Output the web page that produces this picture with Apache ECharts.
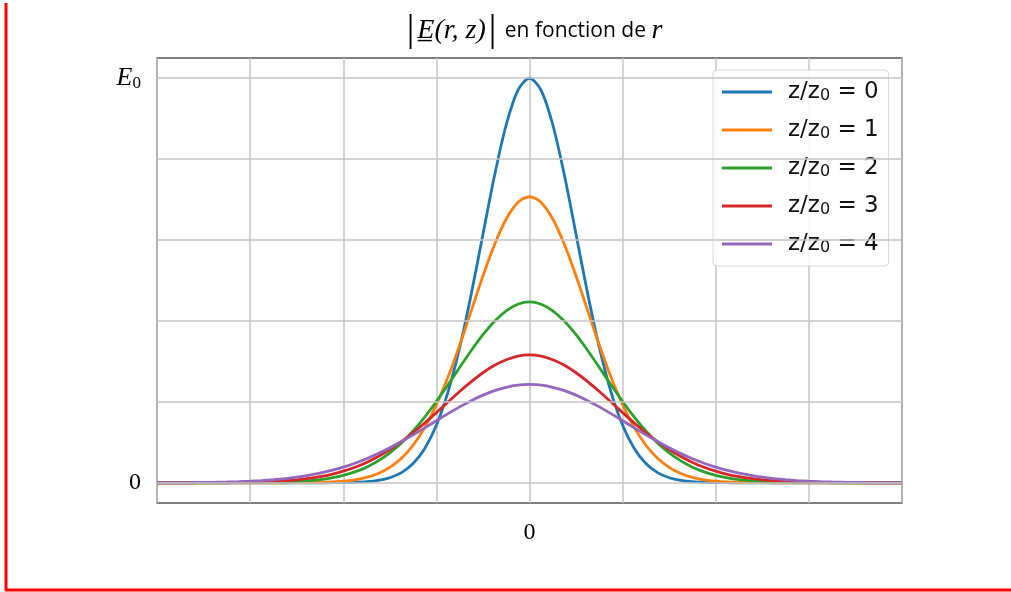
<!DOCTYPE html>
<html>
<head>
<meta charset="utf-8">
<title>|E(r,z)| en fonction de r</title>
<script src="https://cdn.jsdelivr.net/npm/echarts@6/dist/echarts.min.js"></script>
<style>
  html, body { margin: 0; padding: 0; background: #fff; }
  #main { width: 1011px; height: 592px; }
</style>
</head>
<body>
<div id="main"></div>
<script>
// abscisse r (une graduation = une unité), de -4 à 4 par pas de 0.125
var rValues = [-4, -3.875, -3.75, -3.625, -3.5, -3.375, -3.25, -3.125, -3, -2.875, -2.75, -2.625, -2.5, -2.375, -2.25, -2.125,
  -2, -1.875, -1.75, -1.625, -1.5, -1.375, -1.25, -1.125, -1, -0.875, -0.75, -0.625, -0.5, -0.375, -0.25, -0.125,
  0, 0.125, 0.25, 0.375, 0.5, 0.625, 0.75, 0.875, 1, 1.125, 1.25, 1.375, 1.5, 1.625, 1.75, 1.875,
  2, 2.125, 2.25, 2.375, 2.5, 2.625, 2.75, 2.875, 3, 3.125, 3.25, 3.375, 3.5, 3.625, 3.75, 3.875, 4];

// |E| / E0
var ez0 = [0, 0, 0, 0, 0, 0, 0, 0, 0, 0, 0, 0, 0, 0, 0, 0.0002,
  0.0004, 0.0011, 0.0026, 0.0058, 0.0124, 0.025, 0.0475, 0.0848, 0.142, 0.2247, 0.334, 0.467, 0.614, 0.76, 0.885, 0.97,
  1, 0.97, 0.885, 0.76, 0.614, 0.467, 0.334, 0.2247, 0.142, 0.0848, 0.0475, 0.025, 0.0124, 0.0058, 0.0026, 0.0011,
  0.0004, 0.0002, 0, 0, 0, 0, 0, 0, 0, 0, 0, 0, 0, 0, 0, 0, 0];
var ez1 = [0, 0, 0, 0, 0, 0, 0, 0, 0, 0, 0, 0.0001, 0.0002, 0.0005, 0.001, 0.002,
  0.0039, 0.0073, 0.0132, 0.0228, 0.038, 0.0605, 0.0928, 0.1364, 0.193, 0.2613, 0.34, 0.4255, 0.511, 0.589, 0.652, 0.693,
  0.707, 0.693, 0.652, 0.589, 0.511, 0.4255, 0.34, 0.2613, 0.193, 0.1364, 0.0928, 0.0605, 0.038, 0.0228, 0.0132, 0.0073,
  0.0039, 0.002, 0.001, 0.0005, 0.0002, 0.0001, 0, 0, 0, 0, 0, 0, 0, 0, 0, 0, 0];
var ez2 = [0, 0, 0, 0, 0, 0, 0.0001, 0.0002, 0.0003, 0.0006, 0.0011, 0.0018, 0.003, 0.0049, 0.0078, 0.0121,
  0.0182, 0.0268, 0.0386, 0.054, 0.0739, 0.0985, 0.128, 0.1624, 0.201, 0.2423, 0.285, 0.327, 0.366, 0.3994, 0.425, 0.4414,
  0.447, 0.4414, 0.425, 0.3994, 0.366, 0.327, 0.285, 0.2423, 0.201, 0.1624, 0.128, 0.0985, 0.0739, 0.054, 0.0386, 0.0268,
  0.0182, 0.0121, 0.0078, 0.0049, 0.003, 0.0018, 0.0011, 0.0006, 0.0003, 0.0002, 0.0001, 0, 0, 0, 0, 0, 0];
var ez3 = [0, 0, 0.0001, 0.0001, 0.0002, 0.0003, 0.0006, 0.0009, 0.0014, 0.0022, 0.0034, 0.0051, 0.0074, 0.0107, 0.0152, 0.021,
  0.0287, 0.0383, 0.0503, 0.0648, 0.0819, 0.1016, 0.1237, 0.1479, 0.1734, 0.1996, 0.2255, 0.25, 0.272, 0.2904, 0.304, 0.3131,
  0.316, 0.3131, 0.304, 0.2904, 0.272, 0.25, 0.2255, 0.1996, 0.1734, 0.1479, 0.1237, 0.1016, 0.0819, 0.0648, 0.0503, 0.0383,
  0.0287, 0.021, 0.0152, 0.0107, 0.0074, 0.0051, 0.0034, 0.0022, 0.0014, 0.0009, 0.0006, 0.0003, 0.0002, 0.0001, 0.0001, 0, 0];
var ez4 = [0.0002, 0.0002, 0.0004, 0.0006, 0.0009, 0.0013, 0.0019, 0.0027, 0.0039, 0.0054, 0.0075, 0.0102, 0.0137, 0.0182, 0.0237, 0.0304,
  0.0386, 0.0482, 0.0594, 0.0721, 0.0863, 0.1018, 0.1184, 0.1358, 0.1534, 0.1709, 0.1876, 0.203, 0.2166, 0.2278, 0.236, 0.2413,
  0.243, 0.2413, 0.236, 0.2278, 0.2166, 0.203, 0.1876, 0.1709, 0.1534, 0.1358, 0.1184, 0.1018, 0.0863, 0.0721, 0.0594, 0.0482,
  0.0386, 0.0304, 0.0237, 0.0182, 0.0137, 0.0102, 0.0075, 0.0054, 0.0039, 0.0027, 0.0019, 0.0013, 0.0009, 0.0006, 0.0004, 0.0002, 0.0002];

var zRatios = ['0', '1', '2', '3', '4'];
var seriesValues = [ez0, ez1, ez2, ez3, ez4];
var colors = ['#1f77b4', '#ff7f0e', '#2ca02c', '#d62728', '#9467bd'];

// lignes de grille horizontales (0 ... E0)
var yGrid = [0, 0.2, 0.4, 0.6, 0.8, 1];

var seriesNames = zRatios.map(function (z) { return 'z/z0 = ' + z; });

var chart = echarts.init(document.getElementById('main'));

var series = seriesValues.map(function (vals, i) {
  var s = {
    name: seriesNames[i],
    type: 'line',
    smooth: 0.3,
    symbol: 'none',
    animation: false,
    lineStyle: { color: colors[i], width: 2.8 },
    itemStyle: { color: colors[i] },
    data: rValues.map(function (r, k) { return [r, vals[k]]; })
  };
  if (i === 0) {
    s.markLine = {
      silent: true,
      symbol: 'none',
      label: { show: false },
      animation: false,
      lineStyle: { color: '#c4c4c4', width: 1.5, type: 'solid' },
      data: yGrid.map(function (v) { return { yAxis: v }; })
    };
  }
  return s;
});

var option = {
  backgroundColor: '#fff',
  animation: false,
  title: {
    text: '{bar||}{m|E\u0332(r, z)}{bar||}{t| en fonction de }{m|r}',
    left: 528,
    top: 7,
    textAlign: 'center',
    textStyle: {
      fontWeight: 'normal',
      rich: {
        bar: { fontFamily: 'Liberation Serif', fontWeight: 'normal', fontSize: 38, color: '#000', padding: [0, 3, 0, 3] },
        m: { fontFamily: 'Liberation Serif', fontStyle: 'italic', fontWeight: 'normal', fontSize: 28, color: '#000' },
        t: { fontFamily: 'Open Sans', fontWeight: 'normal', fontSize: 21, color: '#000' }
      }
    }
  },
  grid: {
    left: 157, right: 109, top: 58, bottom: 89,
    show: true, borderColor: '#555', borderWidth: 1.5,
    containLabel: false
  },
  legend: {
    orient: 'vertical',
    left: 713,
    top: 70,
    icon: 'rect',
    itemWidth: 50,
    itemHeight: 3,
    itemGap: 13,
    padding: [9, 10, 10, 9],
    backgroundColor: 'rgba(255,255,255,0.85)',
    borderColor: '#d8d8d8',
    borderWidth: 1,
    borderRadius: 4,
    formatter: function (name) {
      var z = name.split('= ')[1];
      return '{a|z/z}{s|0}{a| = ' + z + '}';
    },
    textStyle: {
      padding: [0, 0, 0, 11],
      rich: {
        a: { fontFamily: 'DejaVu Sans', fontSize: 23, color: '#111', lineHeight: 24 },
        s: { fontFamily: 'DejaVu Sans', fontSize: 16, color: '#111', verticalAlign: 'bottom', lineHeight: 24, padding: [9, 0, 0, 0] }
      }
    },
    data: seriesNames
  },
  xAxis: {
    type: 'value',
    min: -4,
    max: 4,
    interval: 1,
    axisLine: { show: false },
    axisTick: { show: false },
    splitLine: { show: true, lineStyle: { color: '#c4c4c4', width: 1.5 } },
    axisLabel: {
      margin: 18,
      fontFamily: 'Liberation Serif',
      fontSize: 24,
      color: '#000',
      formatter: function (v) { return v === 0 ? '0' : ''; }
    }
  },
  yAxis: {
    type: 'value',
    min: -0.05,
    max: 1.05,
    interval: 0.05,
    axisLine: { show: false },
    axisTick: { show: false },
    splitLine: { show: false },
    axisLabel: {
      margin: 16,
      color: '#000',
      formatter: function (v) {
        if (Math.abs(v - 1) < 1e-6) return '{e|E}{s|0}';
        if (Math.abs(v) < 1e-6) return '{z|0}';
        return '';
      },
      rich: {
        e: { fontFamily: 'Liberation Serif', fontStyle: 'italic', fontSize: 26, color: '#000' },
        s: { fontFamily: 'Liberation Serif', fontSize: 17, color: '#000', verticalAlign: 'bottom', padding: [10, 0, 0, 0] },
        z: { fontFamily: 'Liberation Serif', fontSize: 24, color: '#000' }
      }
    }
  },
  graphic: [
    { type: 'line', shape: { x1: 6, y1: 3, x2: 6, y2: 591 }, style: { stroke: '#ff0000', lineWidth: 3 }, silent: true },
    { type: 'line', shape: { x1: 5, y1: 590, x2: 1011, y2: 590 }, style: { stroke: '#ff0000', lineWidth: 3 }, silent: true }
  ],
  series: series
};

chart.setOption(option);
</script>
</body>
</html>
